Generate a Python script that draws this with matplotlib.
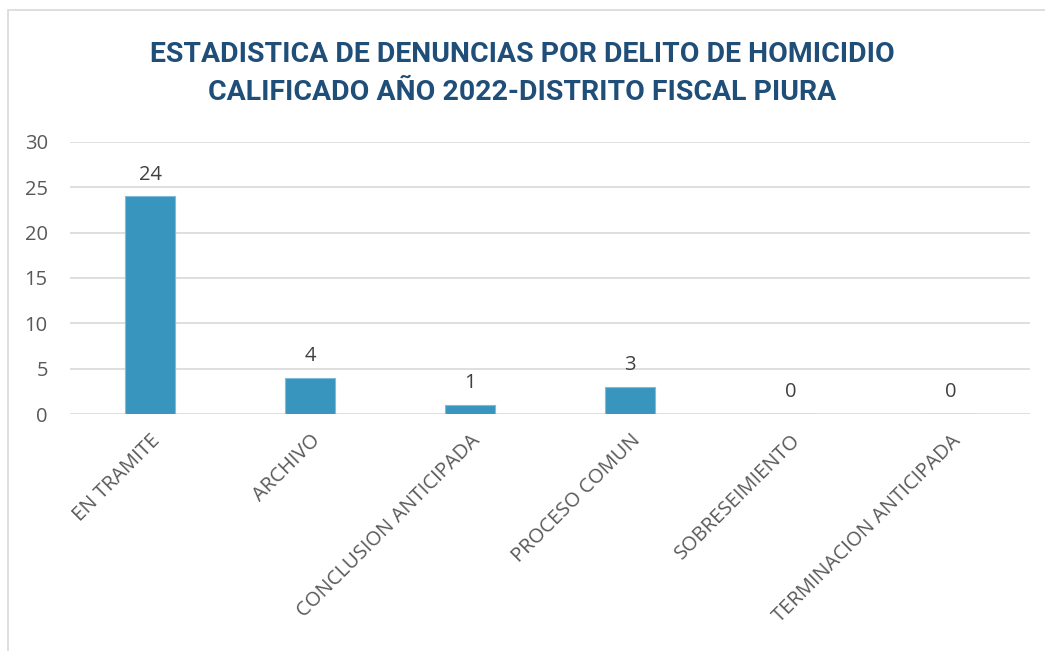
import matplotlib.pyplot as plt
from matplotlib.patches import Rectangle

# Datos del grafico
categorias = ['EN TRAMITE', 'ARCHIVO', 'CONCLUSION ANTICIPADA', 'PROCESO COMUN',
              'SOBRESEIMIENTO', 'TERMINACION ANTICIPADA']
valores = [24, 4, 1, 3, 0, 0]
ticks_y = [0, 5, 10, 15, 20, 25, 30]
titulo = 'ESTADISTICA DE DENUNCIAS POR DELITO DE HOMICIDIO\nCALIFICADO AÑO 2022-DISTRITO FISCAL PIURA'

plt.rcParams['font.family'] = ['Open Sans', 'DejaVu Sans']

fig = plt.figure(figsize=(10.45, 6.51), dpi=100)
ax = fig.add_axes([0.067, 0.364, 0.919, 0.418])

# Marco exterior
fig.patches.append(Rectangle((8 / 1045, -0.01), 1.02, 1 - 10 / 651 + 0.01, transform=fig.transFigure,
                             fill=False, edgecolor='#D9D9D9', linewidth=1.2))

x = range(len(categorias))
ax.bar(x, valores, width=0.31, color='#3795BE', edgecolor='#7FBCD8', linewidth=0.8, zorder=3)
for xi, v in zip(x, valores):
    ax.text(xi, v + 1.3, str(v), ha='center', va='bottom', fontsize=14.5, color='#404040')

ax.set_ylim(0, 30)
ax.set_xlim(-0.5, len(categorias) - 0.5)
ax.set_yticks(ticks_y)
ax.set_xticks(list(x))
ax.set_xticklabels(categorias, rotation=45, ha='right', rotation_mode='anchor')
ax.tick_params(axis='both', length=0, labelsize=14.5, labelcolor='#595959')
ax.tick_params(axis='y', pad=16)
ax.tick_params(axis='x', pad=12)
ax.grid(axis='y', color='#D9D9D9', linewidth=1.2, zorder=0)
for s in ax.spines.values():
    s.set_visible(False)

fig.text(0.5, 0.887, titulo, ha='center', va='center', fontsize=20.4, fontweight='bold',
         color='#1F4E79', linespacing=1.52, family=['Roboto', 'DejaVu Sans'])

plt.savefig('out.png', dpi=100)
